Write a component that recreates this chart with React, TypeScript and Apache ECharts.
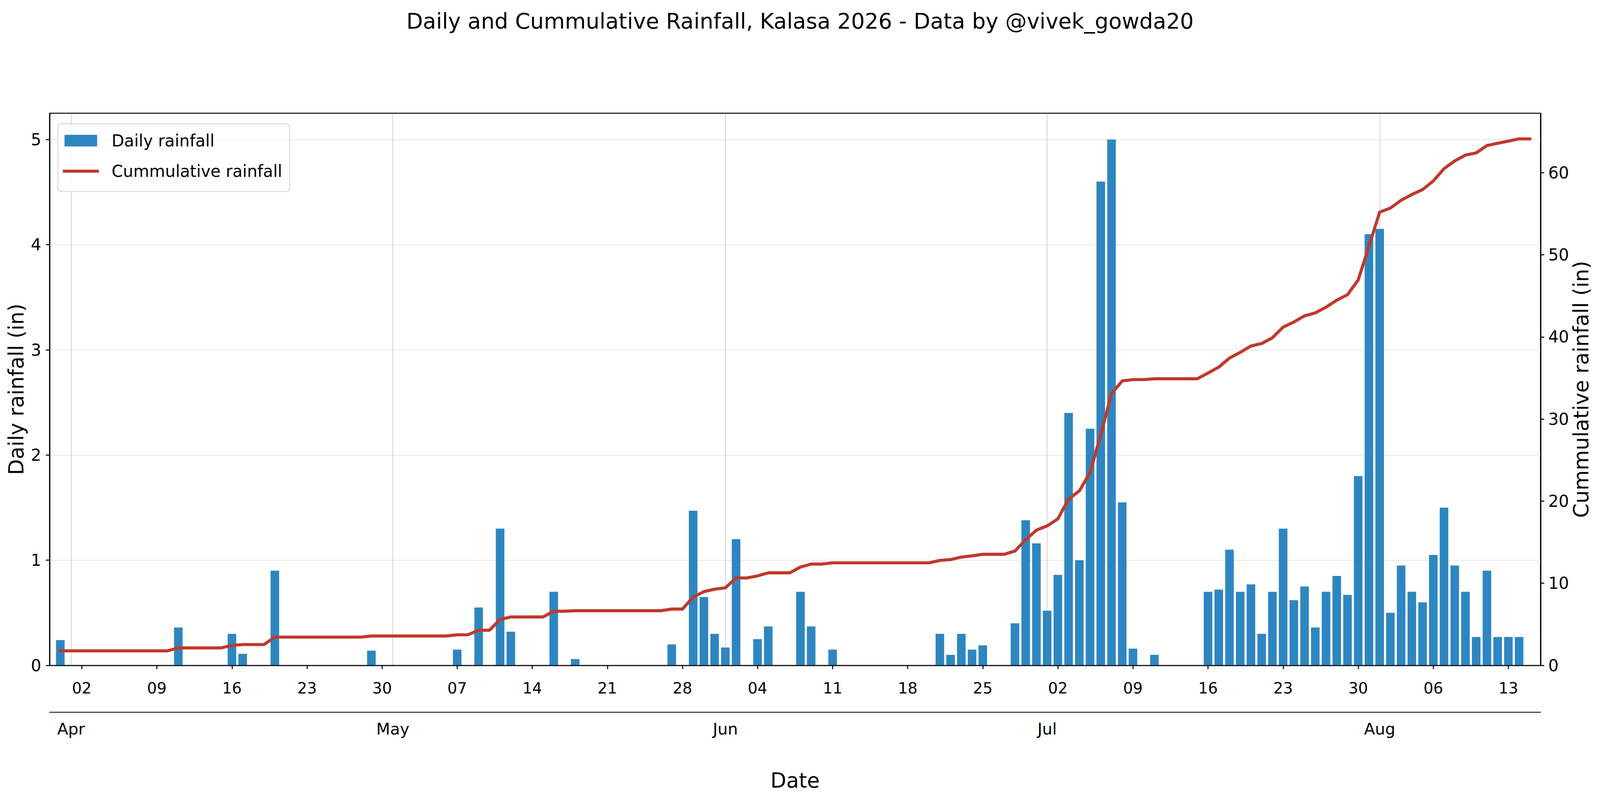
import React, { useEffect, useRef } from 'react';
import * as echarts from 'echarts';

// ---------- data ----------
const firstDate = '2026-03-31';
const axisStartDate = '2026-03-30';
const axisEndDate = '2026-08-16';

// daily rainfall (in), one value per day from 2026-03-31 to 2026-08-15
const dailyRain = [
  // Mar 31
  0.24,
  // Apr 1-20
  0, 0, 0, 0, 0, 0, 0, 0, 0, 0, 0.36, 0, 0, 0, 0, 0.30, 0.11, 0, 0, 0.90,
  // Apr 21-30
  0, 0, 0, 0, 0, 0, 0, 0, 0.14, 0,
  // May 1-20
  0, 0, 0, 0, 0, 0, 0.15, 0, 0.55, 0, 1.30, 0.32, 0, 0, 0, 0.70, 0, 0.06, 0, 0,
  // May 21-31
  0, 0, 0, 0, 0, 0, 0.20, 0, 1.47, 0.65, 0.30,
  // Jun 1-20
  0.17, 1.20, 0, 0.25, 0.37, 0, 0, 0.70, 0.37, 0, 0.15, 0, 0, 0, 0, 0, 0, 0, 0, 0,
  // Jun 21-30
  0.30, 0.10, 0.30, 0.15, 0.19, 0, 0, 0.40, 1.38, 1.16,
  // Jul 1-20
  0.52, 0.86, 2.40, 1.00, 2.25, 4.60, 5.00, 1.55, 0.16, 0, 0.10, 0, 0, 0, 0, 0.70, 0.72, 1.10, 0.70, 0.77,
  // Jul 21-31
  0.30, 0.70, 1.30, 0.62, 0.75, 0.36, 0.70, 0.85, 0.67, 1.80, 4.10,
  // Aug 1-15
  4.15, 0.50, 0.95, 0.70, 0.60, 1.05, 1.50, 0.95, 0.70, 0.27, 0.90, 0.27, 0.27, 0.27, 0,
];

// cumulative rainfall (in), same days
const cumulativeRain = [
  // Mar 31
  1.77,
  // Apr 1-20
  1.77, 1.77, 1.77, 1.77, 1.77, 1.77, 1.77, 1.77, 1.77, 1.77, 2.13, 2.13, 2.13, 2.13, 2.13, 2.43, 2.54, 2.54, 2.54, 3.44,
  // Apr 21-30
  3.44, 3.44, 3.44, 3.44, 3.44, 3.44, 3.44, 3.44, 3.58, 3.58,
  // May 1-20
  3.58, 3.58, 3.58, 3.58, 3.58, 3.58, 3.73, 3.73, 4.28, 4.28, 5.58, 5.90, 5.90, 5.90, 5.90, 6.60, 6.60, 6.66, 6.66, 6.66,
  // May 21-31
  6.66, 6.66, 6.66, 6.66, 6.66, 6.66, 6.86, 6.86, 8.33, 8.98, 9.28,
  // Jun 1-20
  9.45, 10.65, 10.65, 10.90, 11.27, 11.27, 11.27, 11.97, 12.34, 12.34, 12.49, 12.49, 12.49, 12.49, 12.49, 12.49, 12.49, 12.49, 12.49, 12.49,
  // Jun 21-30
  12.79, 12.89, 13.19, 13.34, 13.53, 13.53, 13.53, 13.93, 15.31, 16.47,
  // Jul 1-20
  16.99, 17.85, 20.25, 21.25, 23.50, 28.10, 33.10, 34.65, 34.81, 34.81, 34.91, 34.91, 34.91, 34.91, 34.91, 35.61, 36.33, 37.43, 38.13, 38.90,
  // Jul 21-31
  39.20, 39.90, 41.20, 41.82, 42.57, 42.93, 43.63, 44.48, 45.15, 46.95, 51.05,
  // Aug 1-15
  55.20, 55.70, 56.65, 57.35, 57.95, 59.00, 60.50, 61.45, 62.15, 62.42, 63.32, 63.59, 63.86, 64.13, 64.13,
];

const weekTickDates = [
  '2026-04-02', '2026-04-09', '2026-04-16', '2026-04-23', '2026-04-30',
  '2026-05-07', '2026-05-14', '2026-05-21', '2026-05-28',
  '2026-06-04', '2026-06-11', '2026-06-18', '2026-06-25',
  '2026-07-02', '2026-07-09', '2026-07-16', '2026-07-23', '2026-07-30',
  '2026-08-06', '2026-08-13',
];
const weekTickLabels = [
  '02', '09', '16', '23', '30',
  '07', '14', '21', '28',
  '04', '11', '18', '25',
  '02', '09', '16', '23', '30',
  '06', '13',
];
const monthTickDates = ['2026-04-01', '2026-05-01', '2026-06-01', '2026-07-01', '2026-08-01'];
const monthTickLabels = ['Apr', 'May', 'Jun', 'Jul', 'Aug'];

const leftTicks = [0, 1, 2, 3, 4, 5];
const rightTicks = [0, 10, 20, 30, 40, 50, 60];
const leftMax = 5.25;
const rightMax = 67.25;

const titleText = 'Daily and Cummulative Rainfall, Kalasa 2026 - Data by @vivek_gowda20';

// ---------- helpers ----------
function dayNumber(date: string): number {
  const [y, m, d] = date.split('-').map(Number);
  return Math.round(Date.UTC(y, m - 1, d) / 86400000);
}

const FONT = 'DejaVu Sans';
const DESIGN_W = 5195;
const DESIGN_H = 2059;

export default function App() {
  const ref = useRef<HTMLDivElement>(null);

  useEffect(() => {
    const el = ref.current;
    if (!el) return;
    const W = el.clientWidth || DESIGN_W;
    const H = el.clientHeight || DESIGN_H;
    const sx = W / DESIGN_W;
    const sy = H / DESIGN_H;
    const f = Math.min(sx, sy);
    const X = (v: number) => v * sx;
    const Y = (v: number) => v * sy;

    const chart = echarts.init(el, undefined, { renderer: 'svg', width: W, height: H });

    const start = dayNumber(firstDate);
    const barData = dailyRain.map((v, i) => [start + i, v]);
    const lineData = cumulativeRain.map((v, i) => [start + i, v]);
    const weekDays = weekTickDates.map(dayNumber);
    const monthDays = monthTickDates.map(dayNumber);
    const xMin = dayNumber(axisStartDate);
    const xMax = dayNumber(axisEndDate);

    const fsTitle = 70 * f;
    const fsLegend = 53 * f;
    const fsXTick = 50 * f;
    const fsMonth = 52 * f;
    const fsYTick = 53 * f;
    const fsName = 67 * f;

    const spineBottom = 1704;
    const monthLine = 1824;

    const option: any = {
      animation: false,
      backgroundColor: '#ffffff',
      textStyle: { fontFamily: FONT },
      title: {
        text: titleText,
        left: 'center',
        top: Y(54) - fsTitle / 2,
        padding: 0,
        textStyle: { fontFamily: FONT, fontSize: fsTitle, fontWeight: 'normal', color: '#000' },
      },
      legend: {
        orient: 'vertical',
        left: X(188),
        top: Y(317),
        z: 10,
        selectedMode: false,
        padding: [Y(360) - Y(317) - fsLegend / 2, 24 * f, Y(490) - Y(438) - fsLegend / 2, 16 * f],
        itemGap: Y(438) - Y(360) - fsLegend,
        itemWidth: 117 * f,
        itemHeight: 38 * f,
        backgroundColor: 'rgba(255,255,255,0.8)',
        borderColor: '#d6d6d6',
        borderWidth: 3 * f,
        borderRadius: 11 * f,
        itemStyle: { borderWidth: 0 },
        textStyle: { fontFamily: FONT, fontSize: fsLegend, color: '#000', padding: [0, 0, 0, 35 * f] },
        data: [
          { name: 'Daily rainfall', icon: 'path://M0 0H106V38H0Z' },
          { name: 'Cummulative rainfall', icon: 'path://M0 0H117V10H0Z' },
        ],
      },
      grid: {
        left: X(161),
        right: X(193),
        top: Y(290),
        bottom: Y(DESIGN_H - spineBottom),
        containLabel: false,
        outerBoundsMode: 'none',
        show: true,
        borderColor: '#000',
        borderWidth: 3.3 * f,
        backgroundColor: 'transparent',
      },
      xAxis: [
        {
          type: 'value',
          min: xMin,
          max: xMax,
          position: 'bottom',
          z: 3,
          axisLine: { show: true, onZero: false, lineStyle: { color: '#000', width: 3.3 * f } },
          axisTick: {
            show: true,
            inside: false,
            length: 12 * f,
            customValues: weekDays,
            lineStyle: { color: '#000', width: 3.3 * f },
          },
          axisLabel: {
            customValues: weekDays,
            formatter: (v: number) => {
              const k = weekDays.indexOf(Math.round(v));
              return k >= 0 ? weekTickLabels[k] : '';
            },
            fontFamily: FONT,
            fontSize: fsXTick,
            color: '#000',
            margin: Y(1762.7 - spineBottom) - fsXTick / 2,
          },
          splitLine: { show: false },
        },
        {
          type: 'value',
          min: xMin,
          max: xMax,
          position: 'bottom',
          offset: Y(monthLine - spineBottom),
          z: 3,
          name: 'Date',
          nameLocation: 'middle',
          nameGap: Y(1998.5 - monthLine) - fsName / 2,
          nameMoveOverlap: false,
          nameTextStyle: { fontFamily: FONT, fontSize: fsName, color: '#000' },
          axisLine: { show: true, onZero: false, lineStyle: { color: '#000', width: 2.6 * f } },
          axisTick: { show: false, customValues: monthDays },
          axisLabel: {
            customValues: monthDays,
            formatter: (v: number) => {
              const k = monthDays.indexOf(Math.round(v));
              return k >= 0 ? monthTickLabels[k] : '';
            },
            fontFamily: FONT,
            fontSize: fsMonth,
            color: '#000',
            margin: Y(1867 - monthLine) - fsMonth / 2,
          },
          splitLine: { show: true, lineStyle: { color: 'rgba(128,128,128,0.28)', width: 3.3 * f } },
        },
      ],
      yAxis: [
        {
          type: 'value',
          min: 0,
          max: leftMax,
          position: 'left',
          name: 'Daily rainfall (in)',
          nameLocation: 'middle',
          nameGap: X(161 - 53.3) - fsName / 2,
          nameMoveOverlap: false,
          nameTextStyle: { fontFamily: FONT, fontSize: fsName, color: '#000' },
          axisLine: { show: true, lineStyle: { color: '#000', width: 3.3 * f } },
          axisTick: {
            show: true,
            length: 12 * f,
            customValues: leftTicks,
            lineStyle: { color: '#000', width: 3.3 * f },
          },
          axisLabel: {
            customValues: leftTicks,
            fontFamily: FONT,
            fontSize: fsYTick,
            color: '#000',
            margin: X(27),
          },
          splitLine: { show: true, lineStyle: { color: '#ebebeb', width: 3 * f } },
        },
        {
          type: 'value',
          min: 0,
          max: rightMax,
          position: 'right',
          name: 'Cummulative rainfall (in)',
          nameLocation: 'middle',
          nameGap: X(5133 - 5002) - fsName / 2,
          nameMoveOverlap: false,
          nameTextStyle: { fontFamily: FONT, fontSize: fsName, color: '#000' },
          axisLine: { show: true, lineStyle: { color: '#000', width: 3.3 * f } },
          axisTick: {
            show: true,
            length: 12 * f,
            customValues: rightTicks,
            lineStyle: { color: '#000', width: 3.3 * f },
          },
          axisLabel: {
            customValues: rightTicks,
            fontFamily: FONT,
            fontSize: fsYTick,
            color: '#000',
            margin: X(25),
          },
          splitLine: { show: false },
        },
      ],
      series: [
        {
          name: 'Daily rainfall',
          type: 'bar',
          xAxisIndex: 0,
          yAxisIndex: 0,
          barWidth: '80%',
          z: 2,
          itemStyle: { color: '#2E86C1' },
          data: barData,
        },
        {
          name: 'Cummulative rainfall',
          type: 'line',
          xAxisIndex: 0,
          yAxisIndex: 1,
          z: 5,
          symbol: 'none',
          showSymbol: false,
          itemStyle: { color: '#C0392B' },
          lineStyle: { color: '#C0392B', width: 10 * f, join: 'round', cap: 'square' },
          data: lineData,
        },
      ],
    };

    chart.setOption(option);
    return () => {
      chart.dispose();
    };
  }, []);

  return (
    <div
      ref={ref}
      style={{ position: 'fixed', left: 0, top: 0, width: '100vw', height: '100vh', background: '#fff' }}
    />
  );
}
